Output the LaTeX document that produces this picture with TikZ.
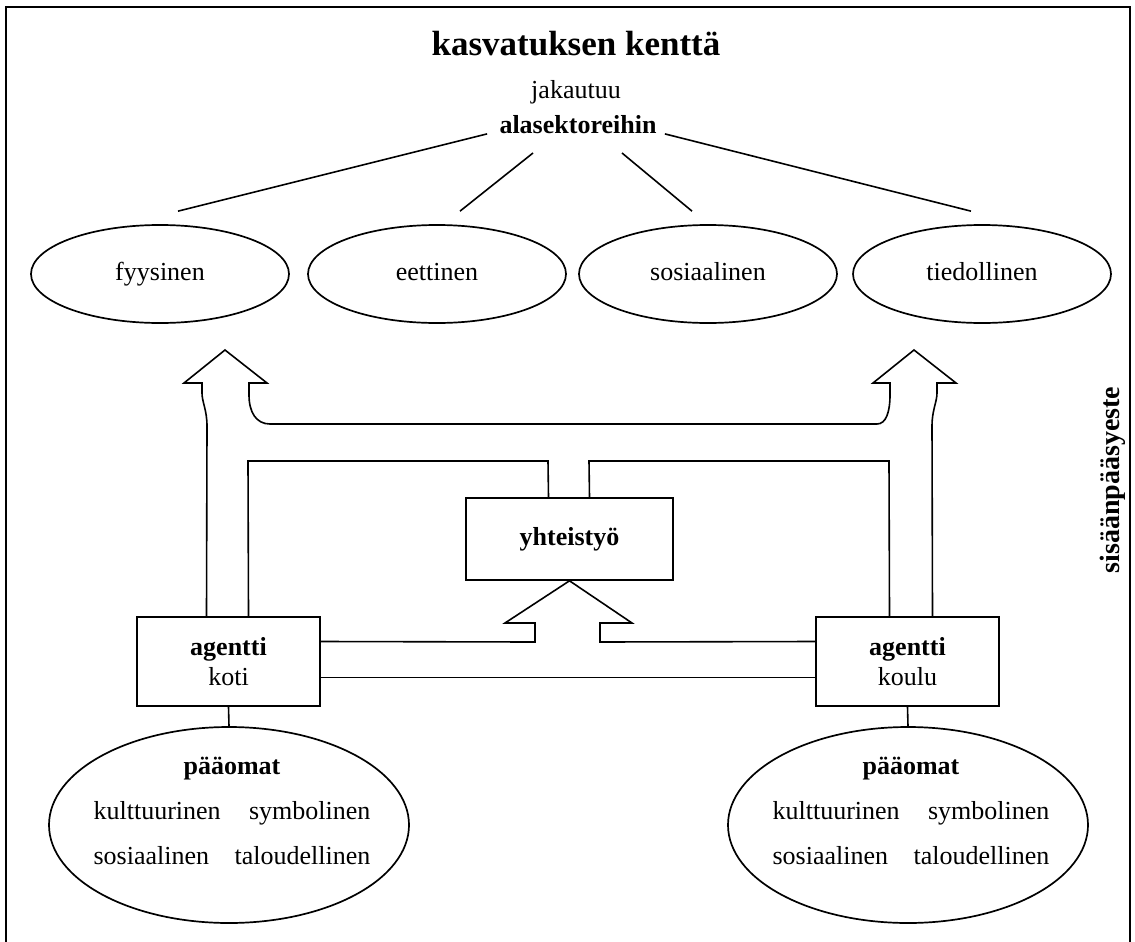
\documentclass[tikz,border=0pt]{standalone}
\usepackage{fontspec}
\setmainfont{Liberation Serif}
\usetikzlibrary{shapes.geometric}

\begin{document}
\begin{tikzpicture}[x=0.5pt, y=-0.5pt,
  every node/.style={font=\fontsize{13}{15}\selectfont},
  sector/.style={draw, ellipse, line width=0.85pt, minimum width=129pt, minimum height=49pt,
    text height=9pt, text depth=3pt},
  agent/.style={draw, rectangle, line width=0.8pt, minimum width=91.5pt, minimum height=44.5pt, align=center},
  capital/.style={draw, ellipse, line width=0.85pt, minimum width=180pt, minimum height=98pt},
  flow/.style={line width=0.8pt, line join=miter}]
\useasboundingbox (0,0) rectangle (1135,942);
\draw[line width=1pt] (6,942) -- (6,7) -- (1130,7) -- (1130,942);

% field and its sub-sectors
\node[font=\fontsize{17.5}{20}\selectfont\bfseries] (title) at (576,44) {kasvatuksen kenttä};
\node (split) at (576,92) {jakautuu};
\node[font=\fontsize{13}{15}\selectfont\bfseries, inner sep=1pt] (sub) at (578,125) {alasektoreihin};

\node[sector] (fyy) at (160,274) {fyysinen};
\node[sector] (eet) at (437,274) {eettinen};
\node[sector] (sos) at (708,274) {sosiaalinen};
\node[sector] (tie) at (982,274) {tiedollinen};

\draw[flow] ([shift={(-10,0)}]sub.base west) -- ([shift={(18,-13)}]fyy.north);
\draw[flow] ([shift={(-45,28)}]sub.center) -- ([shift={(23,-13)}]eet.north);
\draw[flow] ([shift={(44,28)}]sub.center) -- ([shift={(-16,-13)}]sos.north);
\draw[flow] ([shift={(6,0)}]sub.base east) -- ([shift={(-11,-13)}]tie.north);

% agents
\node[agent] (koti) at (228.5,661.5) {\textbf{agentti}\\koti};
\node[agent] (koulu) at (907.5,661.5) {\textbf{agentti}\\koulu};
\node[draw, rectangle, line width=0.8pt, minimum width=103.5pt, minimum height=41pt,
  font=\fontsize{13}{15}\selectfont\bfseries] (coop) at (569.5,539) {yhteistyö};

\node[rotate=90, font=\fontsize{14}{16}\selectfont\bfseries] (este) at (1113,480) {sisäänpääsyeste};

% block arrows
\draw[flow] ([shift={(-22,0)}]koti.north) -- (207,426)
  .. controls (207,410) and (202,402) .. (202,393) -- (202,383) -- (184,383)
  -- (225,350) -- (267,383) -- (249,383) -- (249,395)
  .. controls (249,412) and (256,424) .. (270,424) -- (877,424)
  .. controls (886,424) and (890,412) .. (890,395) -- (890,383) -- (873,383)
  -- (914,350) -- (956,383) -- (937,383) -- (937,393)
  .. controls (937,402) and (932,410) .. (932,426) -- ([shift={(25,0)}]koulu.north);
\draw[flow] ([shift={(20,0)}]koti.north) -- (248,461) -- (548,461) -- ([shift={(-21,0)}]coop.north);
\draw[flow] ([shift={(20,0)}]coop.north) -- (589,461) -- (889,461) -- ([shift={(-18,0)}]koulu.north);
\draw[flow] ([shift={(0,-20)}]koti.east) -- (535,642) -- (535,623) -- (505,623)
  -- (coop.south) -- (632,623) -- (600,623) -- (600,642) -- ([shift={(0,-20)}]koulu.west);
\draw[flow] ([shift={(0,16)}]koti.east) -- ([shift={(0,16)}]koulu.west);

% capitals
\node[capital] (kotipo) at (229,825) {};
\node[capital] (koulupo) at (908,825) {};
\node (kotitxt) at ([shift={(3,-15)}]kotipo.center) {\renewcommand{\arraystretch}{1.5}%
  \begin{tabular}{@{}l@{\hspace{7pt}}r@{}}
  \multicolumn{2}{c}{\textbf{pääomat}}\\
  kulttuurinen & symbolinen\\
  sosiaalinen & taloudellinen
  \end{tabular}};
\node (koulutxt) at ([shift={(3,-15)}]koulupo.center) {\renewcommand{\arraystretch}{1.5}%
  \begin{tabular}{@{}l@{\hspace{7pt}}r@{}}
  \multicolumn{2}{c}{\textbf{pääomat}}\\
  kulttuurinen & symbolinen\\
  sosiaalinen & taloudellinen
  \end{tabular}};
\draw[flow] (koti.south) -- (kotipo.north);
\draw[flow] (koulu.south) -- (koulupo.north);
\end{tikzpicture}
\end{document}
